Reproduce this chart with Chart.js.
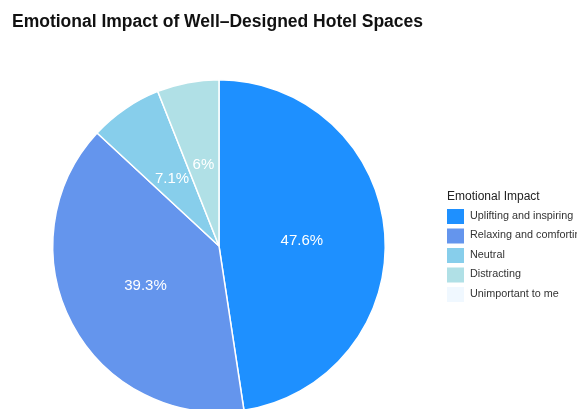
<!DOCTYPE html>
<html>
<head>
<meta charset="utf-8">
<script src="https://cdn.jsdelivr.net/npm/chart.js@4"></script>
<style>
  html, body { margin: 0; padding: 0; background: #fff; overflow: hidden; }
  #wrap { position: relative; width: 577px; height: 460px; }
</style>
</head>
<body>
<div id="wrap"><canvas id="pie"></canvas></div>
<script>
const chartTitle = 'Emotional Impact of Well–Designed Hotel Spaces';
const legendTitle = 'Emotional Impact';
const categories = ['Uplifting and inspiring', 'Relaxing and comforting', 'Neutral', 'Distracting', 'Unimportant to me'];
const shares = [47.6, 39.3, 7.1, 6, 0];
const sliceColors = ['#1E90FF', '#6495ED', '#87CEEB', '#B0E0E6', '#F0F8FF'];

const font = '"Liberation Sans", Arial, Helvetica, sans-serif';

// title, slice percentages and the side legend are painted by hand
const decorations = {
  id: 'decorations',
  afterDatasetsDraw(chart) {
    const ctx = chart.ctx;
    ctx.save();

    ctx.fillStyle = '#111';
    ctx.font = 'bold 17.5px ' + font;
    ctx.textAlign = 'left';
    ctx.textBaseline = 'alphabetic';
    ctx.fillText(chartTitle, 12, 27);

    const meta = chart.getDatasetMeta(0);
    ctx.fillStyle = '#fff';
    ctx.font = '15px ' + font;
    ctx.textAlign = 'center';
    ctx.textBaseline = 'middle';
    meta.data.forEach((arc, i) => {
      if (!shares[i]) return;
      const mid = (arc.startAngle + arc.endAngle) / 2;
      const r = arc.outerRadius * 0.5;
      ctx.fillText(shares[i] + '%', arc.x + Math.cos(mid) * r, arc.y + Math.sin(mid) * r + 1);
    });

    ctx.textAlign = 'left';
    ctx.fillStyle = '#222';
    ctx.font = '12px ' + font;
    ctx.fillText(legendTitle, 447, 197);
    ctx.font = '10.8px ' + font;
    categories.forEach((name, i) => {
      const y = 216 + i * 19.5;
      ctx.fillStyle = sliceColors[i];
      ctx.fillRect(447, y - 7, 17, 15);
      ctx.fillStyle = '#333';
      ctx.fillText(name, 470, y);
    });
    ctx.restore();
  }
};

new Chart(document.getElementById('pie'), {
  type: 'pie',
  data: {
    labels: categories,
    datasets: [{
      data: shares,
      backgroundColor: sliceColors,
      borderColor: '#fff',
      borderWidth: 1.5
    }]
  },
  options: {
    responsive: true,
    maintainAspectRatio: false,
    animation: false,
    layout: { padding: { left: 52, right: 191, top: 79, bottom: 47 } },
    plugins: {
      legend: { display: false },
      tooltip: { enabled: false }
    }
  },
  plugins: [decorations]
});
</script>
</body>
</html>
